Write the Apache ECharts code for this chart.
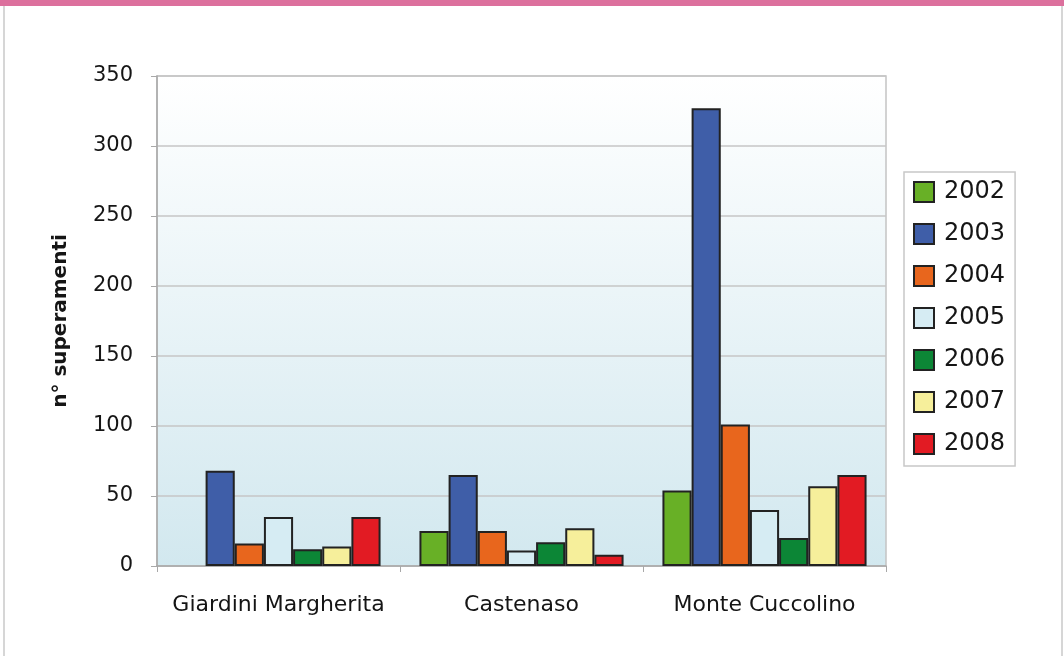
<!DOCTYPE html>
<html>
<head>
<meta charset="utf-8">
<script src="https://cdn.jsdelivr.net/npm/echarts@6/dist/echarts.min.js"></script>
<style>
  html, body { margin: 0; padding: 0; background: #ffffff; }
  #chart { width: 1064px; height: 656px; }
</style>
</head>
<body>
<div id="chart"></div>
<script>
// Stations (categories on the x axis)
const stations = ['Giardini Margherita', 'Castenaso', 'Monte Cuccolino'];
// Years shown in the legend
const years = ['2002', '2003', '2004', '2005', '2006', '2007', '2008'];
// Number of exceedances per year, one value per station
const v2002 = [null, 25, 54];
const v2003 = [68, 65, 327];
const v2004 = [16, 25, 101];
const v2005 = [35, 11, 40];
const v2006 = [12, 17, 20];
const v2007 = [14, 27, 57];
const v2008 = [35, 8, 65];
const yearValues = [v2002, v2003, v2004, v2005, v2006, v2007, v2008];
const yearColors = ['#68b026', '#3f5ea8', '#e8661d', '#d6ecf3', '#0c8636', '#f6ef9b', '#e21b23'];

const fontFamily = '"DejaVu Sans", "Liberation Sans", sans-serif';

const chart = echarts.init(document.getElementById('chart'), null, { renderer: 'canvas' });

const series = years.map((y, i) => ({
  name: y,
  type: 'bar',
  data: yearValues[i],
  barGap: '0%',
  barCategoryGap: '16%',
  itemStyle: {
    color: yearColors[i],
    borderColor: '#222222',
    borderWidth: 2
  },
  emphasis: { disabled: true }
}));

chart.setOption({
  backgroundColor: '#ffffff',
  animation: false,
  graphic: [
    { type: 'rect', shape: { x: 0, y: 0, width: 1064, height: 6 }, style: { fill: '#dc709d' } },
    { type: 'line', shape: { x1: 4, y1: 6, x2: 4, y2: 656 }, style: { stroke: '#c8c8c8', lineWidth: 1.5 } },
    { type: 'line', shape: { x1: 1062, y1: 6, x2: 1062, y2: 656 }, style: { stroke: '#c8c8c8', lineWidth: 1.5 } }
  ],
  grid: {
    left: 157, right: 178, top: 76, bottom: 90,
    show: true,
    borderColor: '#c4c4c4',
    borderWidth: 1.5,
    backgroundColor: new echarts.graphic.LinearGradient(0, 0, 0, 1, [
      { offset: 0, color: '#ffffff' },
      { offset: 1, color: '#d2e8ef' }
    ])
  },
  legend: {
    orient: 'vertical',
    left: 904,
    top: 172,
    padding: [8, 10, 10, 9],
    itemGap: 18,
    itemWidth: 20,
    itemHeight: 20,
    borderColor: '#c8c8c8',
    borderWidth: 1.5,
    icon: 'rect',
    textStyle: { fontFamily, fontSize: 24, color: '#151515', padding: [0, 0, 0, 5] },
    data: years
  },
  xAxis: {
    type: 'category',
    data: stations,
    axisLine: { lineStyle: { color: '#a8a8a8', width: 1.5 } },
    axisTick: { show: true, length: 6, lineStyle: { color: '#a8a8a8' } },
    axisLabel: { fontFamily, fontSize: 22, color: '#151515', margin: 28, interval: 0, hideOverlap: false }
  },
  yAxis: {
    type: 'value',
    min: 0,
    max: 350,
    interval: 50,
    name: 'n° superamenti',
    nameLocation: 'middle',
    nameGap: 86,
    nameRotate: 90,
    nameTextStyle: { fontFamily, fontSize: 20, fontWeight: 'bold', color: '#151515' },
    axisLine: { show: true, lineStyle: { color: '#a8a8a8', width: 1.5 } },
    axisTick: { show: true, length: 6, lineStyle: { color: '#a8a8a8' } },
    axisLabel: { fontFamily, fontSize: 21, color: '#151515', margin: 24 },
    splitLine: { lineStyle: { color: '#c6c6c6', width: 1.5 } }
  },
  series
});
</script>
</body>
</html>
